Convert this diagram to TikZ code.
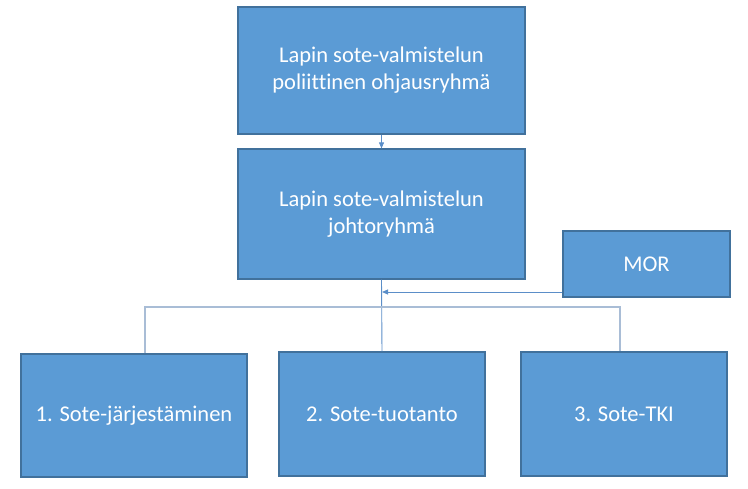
\documentclass[tikz,border=0pt]{standalone}
\usepackage{fontspec}
\setmainfont{Carlito}[Ligatures=NoCommon]
\usepackage{tikz}
\usetikzlibrary{arrows.meta,positioning,calc}
\definecolor{orgFill}{HTML}{5B9BD5}
\definecolor{orgEdge}{HTML}{41719C}
\definecolor{orgLine}{HTML}{5B8EC8}
\definecolor{orgLight}{HTML}{A9BDD6}
\tikzset{
  % Blue organisation box
  obox/.style={rectangle,draw=orgEdge,line width=1.2pt,fill=orgFill,
    align=center,text=white,font=\fontsize{22.5}{27}\selectfont,
    inner sep=0pt},
  % Connectors
  arr/.style={-{Triangle[length=6pt,width=5pt]},line width=0.9pt,color=orgLine},
  conn/.style={line width=0.9pt,color=orgLine},
  connl/.style={line width=1.1pt,color=orgLight},
}
\begin{document}
\begin{tikzpicture}[x=1pt,y=-1pt]
  \useasboundingbox (0,0) rectangle (748,489);

  % Management boxes
  \node[obox,minimum width=287pt,minimum height=127pt] (ohjaus) at (381.5,70.5)
    {Lapin sote-valmistelun\\poliittinen ohjausryhmä};
  \node[obox,minimum width=287pt,minimum height=130pt] (johto) at (381.5,214)
    {Lapin sote-valmistelun\\johtoryhmä};
  \node[obox,minimum width=167pt,minimum height=66pt] (mor) at (646.5,264) {MOR};

  % Work groups
  \node[obox,minimum width=226pt,minimum height=123pt] (sote1) at (134,415.5)
    {1. Sote-järjestäminen};
  \node[obox,minimum width=206pt,minimum height=124pt] (sote2) at (382,414)
    {2. Sote-tuotanto};
  \node[obox,minimum width=206pt,minimum height=124pt] (sote3) at (624,414)
    {3. Sote-TKI};

  % Connector points
  \coordinate (busL) at (145,307);
  \coordinate (busR) at (620,307);
  \coordinate (morIn) at (382,292);

  % Connectors
  \draw[arr] (ohjaus.south) -- (johto.north);
  \draw[conn] (johto.south) -- (sote2.north);
  \draw[arr] (mor.west |- morIn) -- (morIn);
  \draw[connl] (busL |- sote1.north) -- (busL) -- (busR) -- (busR |- sote3.north);
\end{tikzpicture}
\end{document}
